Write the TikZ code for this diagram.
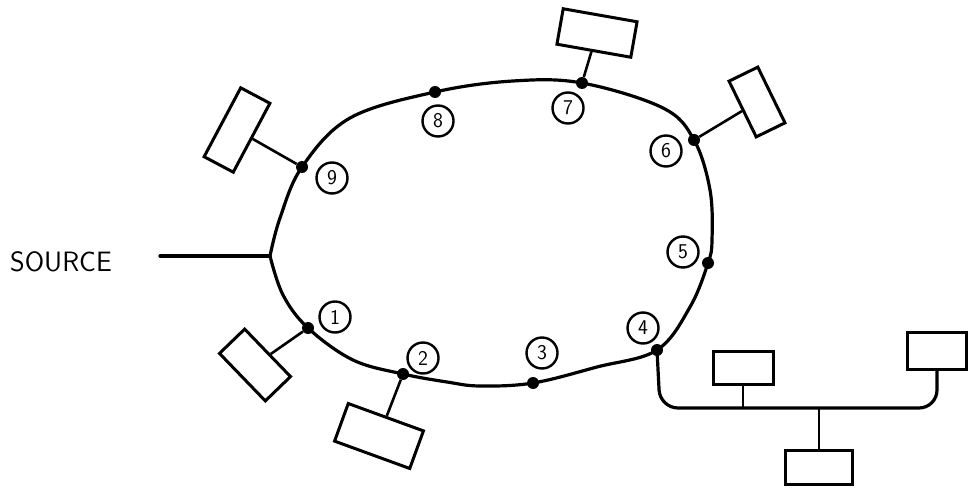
\documentclass[tikz,border=0pt]{standalone}
\usepackage{tikz}
\usetikzlibrary{positioning,calc}
\tikzset{
  cable/.style={line width=3.2pt, line cap=round, line join=round},
  tapline/.style={line width=2.6pt},
  termbox/.style={
    rectangle, draw, line width=3pt, inner sep=0pt,
    minimum width=#1, minimum height=34pt
  },
  termbox/.default=60pt,
  tapdot/.style={circle, fill, inner sep=0pt, minimum size=12pt},
  taglabel/.style={
    circle, draw, line width=2.4pt, inner sep=0pt, minimum size=31pt,
    font=\fontsize{21}{21}\selectfont\sffamily
  }
}

\begin{document}
\begin{tikzpicture}[x=1pt,y=-1pt]
\useasboundingbox (0,0) rectangle (973,494);

% points on the ring
\coordinate (j) at (270,256);
\coordinate (p1) at (308,328);
\coordinate (p2) at (403,374);
\coordinate (p3) at (533,383);
\coordinate (p4) at (657,350);
\coordinate (p5) at (708,263);
\coordinate (p6) at (694,140);
\coordinate (p7) at (582,83);
\coordinate (p8) at (435,92);
\coordinate (p9) at (302,167);

\draw[cable] plot[smooth, tension=0.6] coordinates {(j) (280,218) (p9) (350,118) (p8) (513,81) (p7) (663,108) (p6) (710,190) (712,240) (p5) (690,307) (p4) (597,367) (p3) (480,386) (447,382) (p2) (353,360) (p1) (283,295) (j)};

\foreach \i in {1,...,9}
  \node[tapdot] (d\i) at (p\i) {};

% numbers
\node[taglabel] (l1) at (335,317) {1};
\node[taglabel] (l2) at (423,358) {2};
\node[taglabel] (l3) at (542,353) {3};
\node[taglabel] (l4) at (643,328) {4};
\node[taglabel] (l5) at (683,252) {5};
\node[taglabel] (l6) at (666,151) {6};
\node[taglabel] (l7) at (568,108) {7};
\node[taglabel] (l8) at (438,121) {8};
\node[taglabel] (l9) at (332,178) {9};

% source
\node[font=\fontsize{28}{30}\selectfont\sffamily] (src) at (61,262) {SOURCE};
\coordinate (feed) at (160,256);
\draw[cable] (feed) -- (j);

% stations on the ring
\node[termbox=78pt, minimum height=33pt, rotate=62] (box9) at (237,130) {};
\node[termbox=75pt, minimum height=36pt, rotate=-10] (box7) at (597,33) {};
\node[termbox=62pt, minimum height=32pt, rotate=-64] (box6) at (757,102) {};
\node[termbox=66pt, minimum height=35pt, rotate=-46] (box1) at (255,365) {};
\node[termbox=80pt, minimum height=40pt, rotate=-20] (box2) at (379,436) {};

\draw[tapline] (d9) -- (box9);
\draw[tapline] (d7) -- (box7);
\draw[tapline] (d6) -- (box6);
\draw[tapline] (d1) -- (box1);
\draw[tapline] (d2) -- (box2);

% branch from 4
\node[termbox=60pt, minimum height=33pt] (boxM) at (743,368) {};
\node[termbox=59pt, minimum height=37pt] (boxR) at (937,351) {};
\node[termbox=67pt, minimum height=34pt] (boxB) at (819,467) {};
\coordinate (bend) at (660,408);
\coordinate (busR) at (937,408);
\draw[cable, rounded corners=18pt] (d4.center) -- (bend) -- (busR) -- (boxR.south);
\draw[tapline] (boxM.south) -- (boxM.south |- bend);
\draw[tapline] (boxB.north) -- (boxB.north |- bend);
\end{tikzpicture}
\end{document}
